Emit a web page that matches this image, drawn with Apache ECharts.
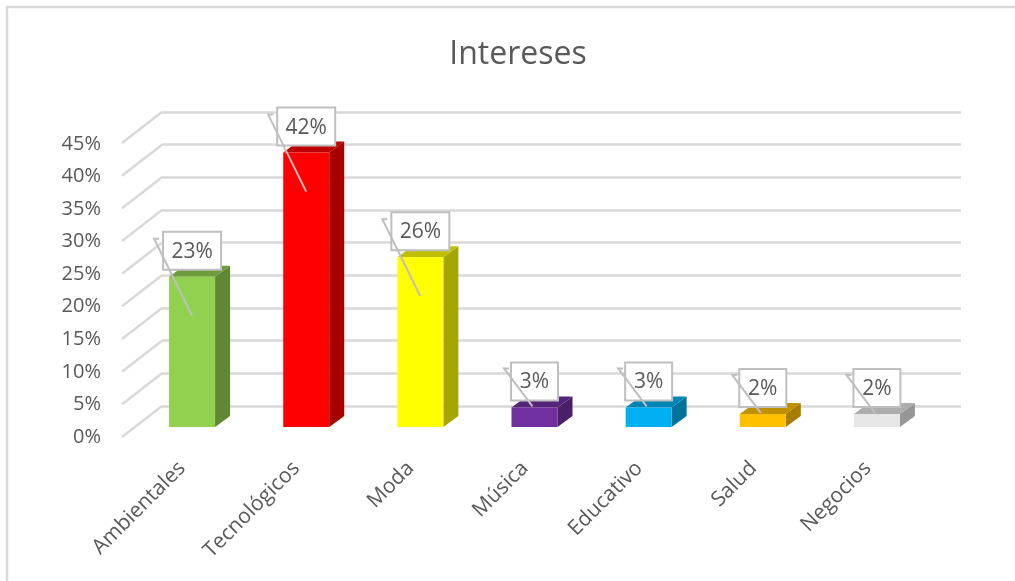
<!DOCTYPE html>
<html>
<head>
<meta charset="utf-8">
<style>html,body{margin:0;padding:0;background:#fff}#chart{width:1015px;height:581px}</style>
<script src="https://cdn.jsdelivr.net/npm/echarts@6/dist/echarts.min.js"></script>
</head>
<body>
<div id="chart"></div>
<script>
// Categories and shares of interest, in percent
const categories = ['Ambientales', 'Tecnológicos', 'Moda', 'Música', 'Educativo', 'Salud', 'Negocios'];
const shares = [23, 42, 26, 3, 3, 2, 2];
const frontColors = ['#92D050', '#FF0000', '#FFFF00', '#7030A0', '#00B0F0', '#FFC000', '#E7E6E6'];
const ticks = [0, 5, 10, 15, 20, 25, 30, 35, 40, 45];

const font = '"Open Sans", sans-serif';
const inkColor = '#595959';
const lineColor = '#D9D9D9';
const calloutColor = '#BFBFBF';

// Pseudo-3D offsets: wall -> bar front plane, and bar depth
const planeDx = -27, planeDy = 21;
const depthDx = 15, depthDy = -11;
const floorDx = -40, floorDy = 31;

function shade(hex, k) {
  const n = parseInt(hex.slice(1), 16);
  const c = s => Math.round(((n >> s) & 255) * k);
  return `rgb(${c(16)},${c(8)},${c(0)})`;
}

function renderBar(params, api) {
  const i = api.value(0), v = api.value(1);
  const top = api.coord([i, v]), base = api.coord([i, 0]);
  const band = api.size([1, 0])[0];
  const w = band * 0.403;
  const cx = top[0] + planeDx;
  const x0 = cx - w / 2, x1 = cx + w / 2;
  const yT = top[1] + planeDy, yB = base[1] + planeDy;
  const col = frontColors[i];
  const poly = (points, fill) => ({ type: 'polygon', shape: { points }, style: { fill } });

  // Callout: box sits just above the bar; the leader runs up-left from the bar
  const label = v + '%';
  const bw = label.length > 2 ? 58 : 47, bh = 38;
  const bx = cx - bw / 2, by = yT - 7 - bh;
  const tall = v > 10;
  const sy = tall ? yT + 39 : yT - 1;
  const sx = tall ? cx : cx - 2;
  const tipX = bx - (tall ? 9 : 7), tipY = by + (tall ? 7 : 6);

  return {
    type: 'group',
    children: [
      poly([[x1, yB], [x1 + depthDx, yB + depthDy], [x1 + depthDx, yT + depthDy], [x1, yT]], shade(col, 0.65)),
      poly([[x0, yT], [x1, yT], [x1 + depthDx, yT + depthDy], [x0 + depthDx, yT + depthDy]], shade(col, 0.75)),
      poly([[x0, yT], [x1, yT], [x1, yB], [x0, yB]], col),
      { type: 'rect', shape: { x: bx, y: by, width: bw, height: bh },
        style: { fill: '#fff', stroke: calloutColor, lineWidth: 2 } },
      { type: 'text', style: { x: bx + bw / 2, y: by + bh / 2 + 1, text: label, align: 'center', verticalAlign: 'middle',
        font: '21px ' + font, fill: inkColor } },
      { type: 'polyline', shape: { points: [[sx, sy], [tipX, tipY], [tipX + 5, tipY]] },
        style: { fill: 'none', stroke: calloutColor, lineWidth: 2 } }
    ]
  };
}

// Receding floor lines running from the wall to the front plane
function renderDiagonal(params, api) {
  const p = api.coord([0, api.value(0)]);
  const band = api.size([1, 0])[0];
  const x = p[0] - band / 2;
  return {
    type: 'line',
    shape: { x1: x, y1: p[1], x2: x + floorDx, y2: p[1] + floorDy },
    style: { stroke: lineColor, lineWidth: 2.5 }
  };
}

const chart = echarts.init(document.getElementById('chart'));
chart.setOption({
  animation: false,
  backgroundColor: '#fff',
  title: {
    text: 'Intereses', left: 513, top: 50, textAlign: 'center', textVerticalAlign: 'middle',
    textStyle: { fontFamily: font, fontSize: 32, fontWeight: 'normal', color: inkColor }
  },
  graphic: [{
    type: 'rect', silent: true, z: -1,
    shape: { x: 7, y: 7, width: 1030, height: 600 },
    style: { fill: 'none', stroke: lineColor, lineWidth: 2.5 }
  }],
  grid: [
    { left: 162, right: 54, top: 112, bottom: 175 },
    { left: 125, right: 90, top: 144, bottom: 144 }
  ],
  xAxis: [
    { gridIndex: 0, type: 'category', data: categories, axisLine: { show: false }, axisTick: { show: false }, axisLabel: { show: false } },
    { gridIndex: 1, type: 'category', data: categories, axisLine: { show: false }, axisTick: { show: false },
      axisLabel: { rotate: 45, interval: 0, margin: 28, fontFamily: font, fontSize: 21, color: inkColor } }
  ],
  yAxis: [
    { gridIndex: 0, type: 'value', min: 0, max: 45, interval: 5, axisLine: { show: false }, axisTick: { show: false },
      axisLabel: { show: false }, splitLine: { lineStyle: { color: lineColor, width: 2.5 } } },
    { gridIndex: 1, type: 'value', min: 0, max: 45, interval: 5, axisLine: { show: false }, axisTick: { show: false },
      splitLine: { show: false },
      axisLabel: { margin: 24, formatter: '{value}%', fontFamily: font, fontSize: 20, color: inkColor } }
  ],
  series: [
    { type: 'custom', xAxisIndex: 0, yAxisIndex: 0, z: 2, silent: true, clip: false,
      encode: { y: 0 }, data: ticks.map(t => [t]), renderItem: renderDiagonal },
    { type: 'custom', xAxisIndex: 0, yAxisIndex: 0, z: 3, silent: true, clip: false,
      encode: { x: 0, y: 1 }, data: shares.map((v, i) => [i, v]), renderItem: renderBar }
  ]
});
</script>
</body>
</html>
